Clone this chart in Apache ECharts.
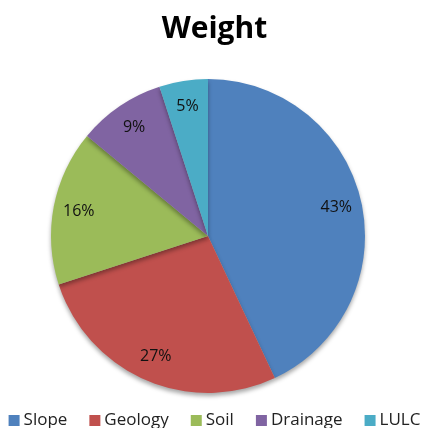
<!DOCTYPE html>
<html><head><meta charset="utf-8">
<script src="https://cdn.jsdelivr.net/npm/echarts@6/dist/echarts.min.js"></script>
<style>html,body{margin:0;padding:0;background:#fff}#c{width:429px;height:428px}</style>
</head><body><div id="c"></div>
<script>
const categories = ['Slope', 'Geology', 'Soil', 'Drainage', 'LULC'];
const values = [43, 27, 16, 9, 5];
const colors = ['#4F81BD', '#C0504D', '#9BBB59', '#8064A2', '#4BACC6'];

const chart = echarts.init(document.getElementById('c'));
const data = categories.map((n, i) => ({ name: n, value: values[i], itemStyle: { color: colors[i] } }));
const center = [208, 236];
chart.setOption({
  animation: false,
  title: { text: 'Weight', left: 'center', top: 9,
    textStyle: { fontFamily: 'Open Sans', fontWeight: 'bold', fontSize: 30, color: '#000' } },
  legend: {
    top: 412, left: 'center', padding: 0, itemWidth: 11, itemHeight: 11, itemGap: 22, icon: 'rect',
    textStyle: { fontFamily: 'Open Sans', fontSize: 17, color: '#222', padding: [0, 0, 0, -1] },
    data: categories
  },
  series: [
    { type: 'pie', center, radius: [0, 157], startAngle: 90, clockwise: true,
      label: { show: false }, labelLine: { show: false },
      itemStyle: { shadowBlur: 4, shadowOffsetY: 3, shadowColor: 'rgba(0,0,0,0.35)' },
      emphasis: { disabled: true }, data },
    { type: 'pie', center, radius: [100, 157], startAngle: 90, clockwise: true, silent: true,
      legendHoverLink: false,
      itemStyle: { color: 'transparent' },
      label: { show: true, position: 'inside', formatter: '{d}%', fontFamily: 'Open Sans', fontSize: 16, color: '#111' },
      labelLine: { show: false },
      data: categories.map((n, i) => ({ name: n + ' ', value: values[i] })) }
  ]
});
</script></body></html>
